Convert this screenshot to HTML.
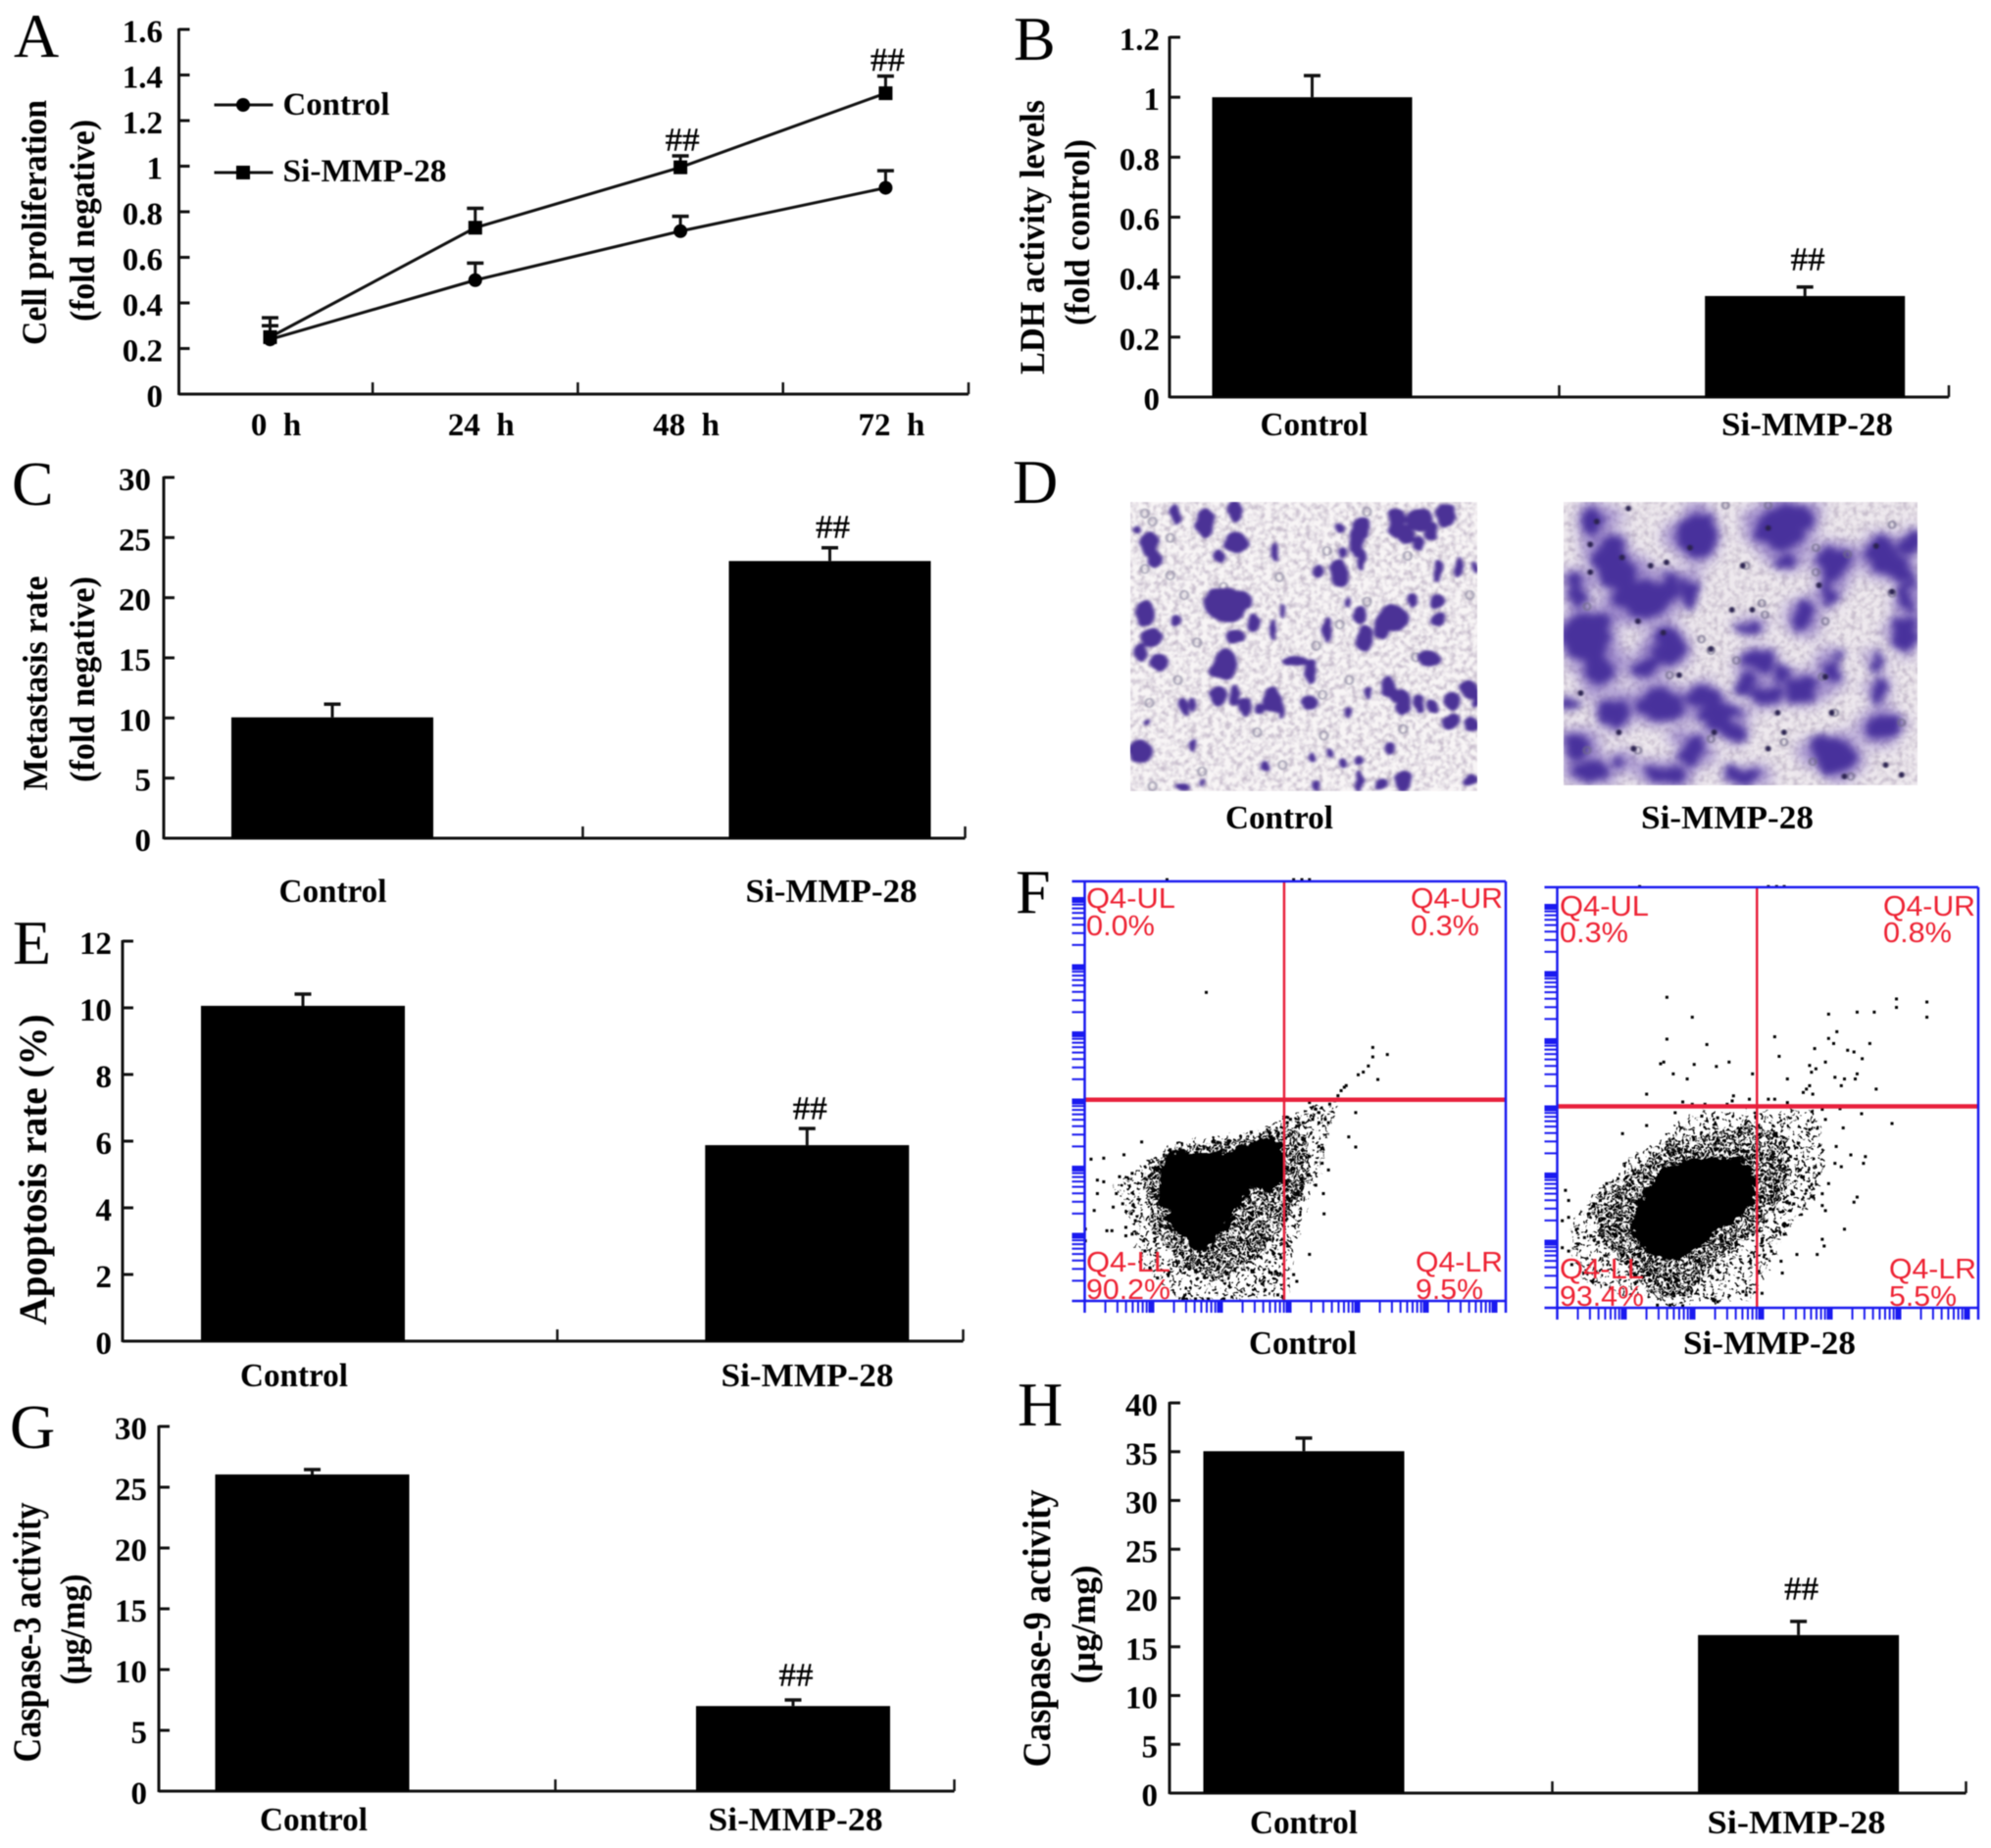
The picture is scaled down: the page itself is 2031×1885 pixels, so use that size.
<!DOCTYPE html>
<html lang="en">
<head>
<meta charset="utf-8">
<title>Si-MMP-28 multi-panel figure</title>
<style>
html,body{margin:0;padding:0;background:#fff;}
#figure{display:block;filter:blur(0.65px);font-family:"Liberation Serif",serif;}
text{font-family:"Liberation Serif",serif;fill:#000;}
</style>
</head>
<body>
<svg id="figure" width="2031" height="1885" viewBox="0 0 2031 1885">
  <rect width="2031" height="1885" fill="#fff"/>
  <defs id="defs">
    <filter id="blurControl" x="-10%" y="-10%" width="120%" height="120%" color-interpolation-filters="sRGB">
      <feTurbulence type="fractalNoise" baseFrequency="0.035 0.02" numOctaves="2" seed="7" result="n"/>
      <feDisplacementMap in="SourceGraphic" in2="n" scale="16" xChannelSelector="R" yChannelSelector="G" result="d"/>
      <feGaussianBlur in="d" stdDeviation="3 4.2"/>
    </filter>
    <filter id="blurSi" x="-10%" y="-10%" width="120%" height="120%" color-interpolation-filters="sRGB">
      <feTurbulence type="fractalNoise" baseFrequency="0.03 0.016" numOctaves="2" seed="11" result="n"/>
      <feDisplacementMap in="SourceGraphic" in2="n" scale="45" xChannelSelector="R" yChannelSelector="G" result="d"/>
      <feGaussianBlur in="d" stdDeviation="6 11"/>
    </filter>
    <filter id="blurHaze" x="-10%" y="-10%" width="120%" height="120%" color-interpolation-filters="sRGB">
      <feTurbulence type="fractalNoise" baseFrequency="0.025 0.014" numOctaves="2" seed="3" result="n"/>
      <feDisplacementMap in="SourceGraphic" in2="n" scale="60" xChannelSelector="R" yChannelSelector="G" result="d"/>
      <feGaussianBlur in="d" stdDeviation="11 20"/>
    </filter>
    <filter id="blurSoft" x="-10%" y="-10%" width="120%" height="120%"><feGaussianBlur stdDeviation="1.5 2.2"/></filter>
    <filter id="mottle" x="0" y="0" width="100%" height="100%" color-interpolation-filters="sRGB">
      <feTurbulence type="fractalNoise" baseFrequency="0.11 0.06" numOctaves="2" seed="4"/>
      <feColorMatrix type="matrix" values="0 0 0 0 0.78  0 0 0 0 0.74  0 0 0 0 0.80  2.6 0 0 0 -1.05"/>
      <feGaussianBlur stdDeviation="1 1.6"/>
    </filter>
    <filter id="roughDots" x="-10%" y="-10%" width="120%" height="120%" color-interpolation-filters="sRGB">
      <feTurbulence type="fractalNoise" baseFrequency="0.17" numOctaves="2" seed="9" result="n"/>
      <feDisplacementMap in="SourceGraphic" in2="n" scale="13" xChannelSelector="R" yChannelSelector="G"/>
    </filter>
    <filter id="roughCore" x="-15%" y="-15%" width="130%" height="130%" color-interpolation-filters="sRGB">
      <feTurbulence type="fractalNoise" baseFrequency="0.1" numOctaves="2" seed="5" result="n"/>
      <feDisplacementMap in="SourceGraphic" in2="n" scale="15" xChannelSelector="R" yChannelSelector="G"/>
    </filter>
  </defs>
  <g id="panel-a"></g>
  <g id="panel-b"></g>
  <g id="panel-c"></g>
  <g id="panel-d"></g>
  <g id="panel-e"></g>
  <g id="panel-f"></g>
  <g id="panel-g"></g>
  <g id="panel-h"></g>
  <g id="letters"></g>
</svg>
<script>
/* ---------- Panel A data ---------- */
const aTimes = ['0  h','24  h','48  h','72  h'];
const aTicks = ['0','0.2','0.4','0.6','0.8','1','1.2','1.4','1.6'];
const aControl = [0.24,0.50,0.715,0.905];
const aControlErr = [0.095,0.075,0.065,0.075];
const aSi = [0.25,0.73,0.995,1.32];
const aSiErr = [0.05,0.085,0.05,0.075];
const aMarks = ['','','##','##'];

/* ---------- Bar panel data ---------- */
const bCategories = ['Control','Si-MMP-28'];
const bValues = [1.0,0.337];
const bErrors = [0.072,0.03];
const bMarks = ['','##'];
const bTicks = ['0','0.2','0.4','0.6','0.8','1','1.2'];

const cCategories = ['Control','Si-MMP-28'];
const cValues = [10.05,23.05];
const cErrors = [1.1,1.1];
const cMarks = ['','##'];
const cTicks = ['0','5','10','15','20','25','30'];

const eCategories = ['Control','Si-MMP-28'];
const eValues = [10.06,5.88];
const eErrors = [0.35,0.5];
const eMarks = ['','##'];
const eTicks = ['0','2','4','6','8','10','12'];

const gCategories = ['Control','Si-MMP-28'];
const gValues = [26.05,7.0];
const gErrors = [0.4,0.5];
const gMarks = ['','##'];
const gTicks = ['0','5','10','15','20','25','30'];

const hCategories = ['Control','Si-MMP-28'];
const hValues = [35.05,16.2];
const hErrors = [1.35,1.4];
const hMarks = ['','##'];
const hTicks = ['0','5','10','15','20','25','30','35','40'];

/* ---------- Flow cytometry data (channel units) ---------- */
const flowControlPoints = [[327,414],[590,577],[613,598],[590,605],[583,632],[575,650],[567,658],[598,672],[545,695],[540,705],[535,720],[530,735],[522,745],[548,690],[563,770],[552,842],[563,872],[510,920],[520,940],[512,1010],[513,1070],[490,1190],[470,1270],[225,857],[197,895],[165,905],[145,908],[155,970],[165,975],[155,1010],[185,1010],[150,1060],[180,1050],[170,1120],[178,1120],[200,1110],[200,1135],[136,1115],[136,1150],[228,1150],[230,1180],[398,828],[345,858],[270,880],[490,740],[500,760],[505,770],[515,790],[520,800],[495,790],[505,800],[480,800],[470,810],[460,790],[455,800],[265,80],[465,80],[478,80],[490,80],[190,960],[210,950],[195,1040],[215,1090],[210,1130],[238,1230],[250,1260],[445,1200],[490,900],[500,985],[505,870],[440,1310],[465,1250],[355,1322],[330,1322],[310,1322],[290,1322]];
const flowControlCore = [[262,905],[300,880],[350,890],[400,858],[447,848],[450,965],[430,1005],[395,990],[375,1060],[352,1125],[322,1180],[296,1155],[272,1095],[254,1040],[256,960]];
const flowControlMid = [[228,960],[278,875],[400,842],[447,812],[480,830],[492,920],[482,1015],[448,1105],[410,1200],[350,1270],[295,1230],[240,1110]];
const flowControlLight = [[180,990],[270,865],[400,825],[445,790],[500,745],[535,745],[522,830],[505,950],[475,1100],[455,1322],[280,1325],[222,1210],[200,1060]];
const flowSiPoints = [[1055,428],[1095,487],[1055,552],[1118,568],[1045,625],[1050,620],[1098,627],[1133,633],[1153,620],[1065,655],[1087,670],[1023,715],[1190,655],[1225,545],[1232,603],[1245,670],[1310,478],[1355,472],[1382,472],[1417,433],[1417,458],[1465,442],[1465,487],[1323,530],[1310,550],[1318,565],[1340,585],[1350,590],[1375,565],[1363,610],[1288,580],[1280,630],[1305,620],[1290,640],[1283,650],[1320,665],[1335,670],[1355,655],[1352,670],[1330,690],[1385,700],[1280,690],[1275,700],[1270,710],[1285,715],[1160,720],[1158,735],[1185,730],[1215,730],[1225,730],[1245,740],[1095,745],[1080,738],[1115,745],[1150,745],[1410,802],[1362,773],[1328,758],[1333,815],[1300,760],[1305,790],[985,832],[1023,808],[1068,770],[1110,780],[1135,785],[1322,870],[1345,895],[1368,900],[1365,920],[1320,920],[1330,930],[1295,950],[1310,980],[1300,1010],[1355,1020],[1350,1035],[1300,1045],[1305,1060],[1335,1115],[1300,1145],[1303,1165],[1292,1190],[1260,1190],[1235,1210],[1237,1245],[1205,1305],[1180,1310],[895,1000],[900,1030],[890,1090],[900,1080],[950,1030],[960,980],[940,1040],[925,1140],[935,1135],[890,1170],[900,1180],[915,1160],[905,1220],[1012,100],[1215,100],[1228,100],[1240,100],[1040,1340],[1060,1340],[1080,1342],[1135,1330],[1175,1300],[1250,900],[1262,860],[1280,820],[1270,960],[1255,1040],[1275,1000],[1240,1130],[1220,1180],[1200,1240]];
const flowSiCore = [[1048,935],[1110,905],[1170,900],[1192,955],[1192,1040],[1145,1105],[1110,1160],[1072,1205],[1030,1200],[1003,1135],[1003,1060],[1028,985]];
const flowSiMid = [[960,1000],[1060,855],[1195,805],[1245,850],[1245,1000],[1205,1105],[1135,1205],[1090,1310],[1040,1320],[995,1235],[950,1135],[930,1050]];
const flowSiLight = [[900,1100],[1000,895],[1100,770],[1210,762],[1290,762],[1305,900],[1295,1000],[1235,1150],[1195,1320],[1050,1345],[915,1260]];
const flowControlLabels = ['Q4-UL','0.0%','Q4-UR','0.3%','Q4-LL','90.2%','Q4-LR','9.5%'];
const flowSiLabels = ['Q4-UL','0.3%','Q4-UR','0.8%','Q4-LL','93.4%','Q4-LR','5.5%'];

/* ---------- Micrograph image content (not chart data) ---------- */
const controlCells = [[275,165,7,28],[322,190,12,40],[370,155,10,30],[235,255,14,35],[245,300,10,25],[373,248,18,30],[347,292,8,18],[435,280,6,28],[215,210,5,10],[568,205,12,30],[535,208,8,12],[560,250,12,40],[570,300,7,30],[538,280,6,15],[625,190,14,40],[660,180,18,30],[702,165,15,32],[680,215,10,25],[660,250,10,20],[640,225,12,25],[500,335,10,20],[535,345,14,40],[690,335,8,30],[720,325,5,28],[748,325,5,15],[355,440,28,50],[378,425,18,25],[400,495,7,25],[372,535,14,18],[228,465,13,35],[238,540,15,25],[222,585,10,25],[250,615,12,25],[275,490,7,15],[430,515,6,30],[445,455,4,20],[515,515,6,35],[568,470,10,25],[575,540,12,35],[620,480,22,35],[600,510,10,30],[690,485,9,18],[650,425,6,20],[687,430,10,20],[548,430,4,15],[675,605,16,22],[355,620,16,45],[345,640,12,20],[465,610,20,12],[490,645,10,35],[343,720,13,28],[370,715,8,30],[385,755,10,25],[430,730,14,35],[440,760,6,25],[487,740,10,20],[290,750,8,25],[305,745,5,20],[410,755,8,15],[612,690,10,30],[635,735,12,35],[622,720,10,20],[660,745,7,25],[680,750,8,18],[713,735,12,25],[740,700,11,25],[748,735,5,20],[578,710,5,15],[710,795,13,22],[742,805,12,22],[222,890,17,32],[232,800,6,10],[305,870,5,18],[417,935,8,15],[492,905,5,12],[520,895,5,12],[540,925,5,12],[565,915,6,14],[612,880,7,15],[565,980,5,28],[600,988,8,14],[635,980,12,28],[738,975,10,15],[288,997,10,12],[500,995,6,15],[320,985,4,10],[550,770,6,15]];
const siCells = [[940,180,22,40],[1105,225,32,70],[1235,205,40,70],[1270,175,25,40],[965,290,30,60],[980,345,30,50],[1015,420,45,60],[1055,385,20,50],[1090,400,15,50],[915,400,15,50],[1245,310,20,25],[1320,315,25,60],[1395,285,30,50],[1420,330,20,45],[1437,245,14,40],[1435,415,15,50],[930,520,38,60],[915,560,25,40],[945,620,25,70],[1025,625,25,35],[1060,570,28,55],[1430,530,20,60],[1270,465,15,50],[1310,400,12,50],[1185,505,25,12],[1200,610,25,30],[1180,680,20,35],[1215,720,25,35],[1270,700,30,40],[1235,650,15,30],[1315,640,15,35],[1390,700,15,40],[1045,745,40,50],[1110,720,30,35],[975,770,20,50],[1140,780,30,50],[1160,830,20,30],[1097,885,22,50],[1320,905,35,55],[1300,870,15,30],[1395,815,25,45],[915,870,20,40],[935,950,30,35],[985,915,15,25],[1050,960,35,30],[1180,960,30,25],[1320,590,8,15],[1385,610,10,30],[900,740,10,20]];
const controlRings = [[228,160],[240,185],[268,235],[228,330],[268,350],[352,385],[290,410],[440,355],[515,275],[578,155],[642,290],[578,430],[740,410],[535,500],[498,565],[310,555],[280,670],[655,600],[508,715],[235,740],[405,830],[510,840],[318,950],[445,930],[240,995],[635,820],[550,670]];
const siDarkDots = [[995,145],[945,185],[1215,205],[1092,265],[935,255],[985,295],[935,340],[1055,310],[1030,320],[1295,380],[1385,260],[1410,400],[1175,320],[1158,455],[1190,455],[1010,490],[1050,525],[1125,575],[1305,660],[1230,770],[1315,770],[1400,930],[1003,880],[980,830],[1130,830],[1240,830],[1215,880],[1335,965],[1425,960],[920,710],[1075,655]];
const siRings = [[1148,135],[1215,135],[1410,195],[1290,265],[1290,340],[1340,285],[1180,320],[1205,435],[1410,405],[1210,470],[1305,490],[1125,580],[1165,610],[1300,660],[1320,770],[1425,800],[1240,860],[1125,850],[930,445],[930,885],[1010,885],[1060,655],[1110,545],[1285,920],[1345,965]];

/* ---------- Layout (geometry only) ---------- */
const layoutA = {left:182.5,right:988,base:402,top:30,max:1.6,firstX:275.5,stepX:209.3,labelRight:166};
const layoutB = {left:1193,right:1988,base:405,top:38,max:1.2,firstBar:1338.5,barStep:502.7,barWidth:204,midTick:1590.5,labelFirst:1340.5,labelStep:503,labelCy:432,tickRight:1183,hashGap:26,siLen:175};
const layoutC = {left:167,right:984.5,base:855,top:487,max:30,firstBar:339,barStep:507.5,barWidth:206,midTick:594.5,labelFirst:339.5,labelStep:508.5,labelCy:908,tickRight:154,hashGap:19,siLen:175};
const layoutE = {left:125,right:982.5,base:1368,top:960,max:12,firstBar:309,barStep:514.3,barWidth:208,midTick:568.5,labelFirst:300,labelStep:523.5,labelCy:1402,tickRight:114,hashGap:18,siLen:176};
const layoutG = {left:162,right:973.5,base:1827,top:1455,max:30,firstBar:318.5,barStep:490.5,barWidth:198,midTick:566.5,labelFirst:320,labelStep:491.5,labelCy:1855,tickRight:150,hashGap:23,siLen:178};
const layoutH = {left:1193,right:2005.5,base:1829,top:1431,max:40,firstBar:1330,barStep:504.6,barWidth:205,midTick:1583.5,labelFirst:1330,labelStep:502.5,labelCy:1858,tickRight:1181,hashGap:31,siLen:182};

const NS = document.querySelector('#figure').namespaceURI;
function mk(tag, parent, attrs) {
  const node = document.createElementNS(NS, tag);
  for (const k in attrs) node.setAttribute(k, attrs[k]);
  parent.appendChild(node);
  return node;
}
function fitText(parent, str, attrs) {
  const node = mk('text', parent, attrs);
  node.textContent = str;
  node.setAttribute('xml:space', 'preserve');
  node.style.whiteSpace = 'pre';
  return node;
}
function yTitle(parent, str, x, cy, len, size) {
  const t = fitText(parent, str, {transform:'translate(' + x + ',' + cy + ') rotate(-90)', x:0, y:size * 0.305, 'text-anchor':'middle', 'font-size':size, 'font-weight':'bold', textLength:len, lengthAdjust:'spacingAndGlyphs'});
  
  
}
function yAxis(parent, L, ticks, labelRight) {
  const scale = v => L.base - v / L.max * (L.base - L.top);
  const axis = mk('line', parent, {x1:L.left, x2:L.left, y1:L.top - 1, y2:L.base + 1, stroke:'#111', 'stroke-width':3});
  
  
  ticks.forEach(label => {
    const y = scale(Number(label));
    if (Number(label) !== 0) {
      const tick = mk('line', parent, {x1:L.left, x2:L.left + 11, y1:y, y2:y, stroke:'#111', 'stroke-width':3});
      
      
    }
    const text = fitText(parent, label, {x:labelRight, y:y + 13, 'text-anchor':'end', 'font-size':33, 'font-weight':'bold'});
    
    
  });
  return scale;
}
function hashMark(parent, str, x, cy) {
  const mark = fitText(parent, str, {x:x, y:cy + 8.5, 'text-anchor':'middle', 'font-size':34, textLength:35, lengthAdjust:'spacingAndGlyphs', stroke:'#000', 'stroke-width':0.4});
  
  
}
function errorBar(parent, x, yFrom, yTo, cap) {
  const stem = mk('line', parent, {x1:x, x2:x, y1:yFrom, y2:yTo, stroke:'#111', 'stroke-width':3});
  
  
  const hat = mk('line', parent, {x1:x - cap / 2, x2:x + cap / 2, y1:yTo, y2:yTo, stroke:'#111', 'stroke-width':3.5});
  
  
}
function drawBars(parent, L, categories, values, errors, marks, ticks) {
  const yScale = yAxis(parent, L, ticks, L.tickRight);
  const xScale = i => L.firstBar + i * L.barStep;
  const xAxisLine = mk('line', parent, {x1:L.left, x2:L.right, y1:L.base, y2:L.base, stroke:'#111', 'stroke-width':3});
  
  
  [L.midTick, L.right].forEach(x => {
    const tick = mk('line', parent, {x1:x, x2:x, y1:L.base, y2:L.base - 12, stroke:'#111', 'stroke-width':2.5});
    
    
  });
  categories.forEach((cat, i) => {
    const cx = xScale(i);
    const yv = yScale(values[i]);
    const yTop = yScale(values[i] + errors[i]);
    errorBar(parent, cx, yv, yTop, 17);
    const bar = mk('rect', parent, {x:cx - L.barWidth / 2, y:yv, width:L.barWidth, height:L.base - yv, fill:'#000'});
    
    
    if (marks[i]) hashMark(parent, marks[i], cx + 3, yTop - L.hashGap);
    const label = fitText(parent, cat, {x:L.labelFirst + i * L.labelStep, y:L.labelCy + 12, 'text-anchor':'middle', 'font-size':34, 'font-weight':'bold', textLength:(cat.length > 7 ? L.siLen : 110), lengthAdjust:'spacingAndGlyphs'});
    
    
  });
}

/* ---------- Panel A ---------- */
(function () {
  const g = document.getElementById('panel-a');
  const L = layoutA;
  const yScale = yAxis(g, L, aTicks, L.labelRight);
  const xScale = i => L.firstX + i * L.stepX;
  const xLine = mk('line', g, {x1:L.left, x2:L.right, y1:L.base, y2:L.base, stroke:'#111', 'stroke-width':3});
  
  
  aTimes.forEach((t, i) => {
    const tx = i === aTimes.length - 1 ? L.right : xScale(i + 0.5);
    const tick = mk('line', g, {x1:tx, x2:tx, y1:L.base, y2:L.base - 12, stroke:'#111', 'stroke-width':2.5});
    
    
    const label = fitText(g, t, {x:xScale(i) + 6, y:444, 'text-anchor':'middle', 'font-size':33, 'font-weight':'bold'});
    
    
  });
  const linePoints = arr => arr.map((v, i) => xScale(i) + ',' + yScale(v)).join(' ');
  const lineC = mk('polyline', g, {points:linePoints(aControl), fill:'none', stroke:'#111', 'stroke-width':3});
  
  
  const lineS = mk('polyline', g, {points:linePoints(aSi), fill:'none', stroke:'#111', 'stroke-width':3});
  
  
  aControl.forEach((v, i) => {
    errorBar(g, xScale(i), yScale(v), yScale(v + aControlErr[i]), 17);
    const dot = mk('circle', g, {cx:xScale(i), cy:yScale(v), r:7, fill:'#000'});
    
    
  });
  aSi.forEach((v, i) => {
    errorBar(g, xScale(i), yScale(v), yScale(v + aSiErr[i]), 17);
    const sq = mk('rect', g, {x:xScale(i) - 7, y:yScale(v) - 7, width:14, height:14, fill:'#000'});
    
    
    if (aMarks[i]) hashMark(g, aMarks[i], xScale(i) + 2, yScale(v + aSiErr[i]) - 14);
  });
  yTitle(g, 'Cell proliferation', 36, 227, 250, 36);
  yTitle(g, '(fold negative)', 85, 225, 206, 36);

  const legendLineC = mk('line', g, {x1:218.5, x2:278.5, y1:107, y2:107, stroke:'#111', 'stroke-width':3});
  
  
  const legendDot = mk('circle', g, {cx:248, cy:107, r:7, fill:'#000'});
  
  
  const legendC = fitText(g, 'Control', {x:288.5, y:117, 'font-size':33, 'font-weight':'bold', textLength:109, lengthAdjust:'spacingAndGlyphs'});
  
  
  const legendLineS = mk('line', g, {x1:218.5, x2:278.5, y1:176, y2:176, stroke:'#111', 'stroke-width':3});
  
  
  const legendSq = mk('rect', g, {x:241, y:169, width:14, height:14, fill:'#000'});
  
  
  const legendS = fitText(g, 'Si-MMP-28', {x:288.5, y:185, 'font-size':33, 'font-weight':'bold', textLength:167, lengthAdjust:'spacingAndGlyphs'});
  
  
})();

/* ---------- Bar panels ---------- */
(function () {
  const b = document.getElementById('panel-b');
  drawBars(b, layoutB, bCategories, bValues, bErrors, bMarks, bTicks);
  yTitle(b, 'LDH activity levels', 1054, 242, 280, 36);
  yTitle(b, '(fold control)', 1100, 237, 190, 36);
  const c = document.getElementById('panel-c');
  drawBars(c, layoutC, cCategories, cValues, cErrors, cMarks, cTicks);
  yTitle(c, 'Metastasis rate', 37, 697, 219, 36);
  yTitle(c, '(fold negative)', 85, 693, 210, 36);
  const e = document.getElementById('panel-e');
  drawBars(e, layoutE, eCategories, eValues, eErrors, eMarks, eTicks);
  yTitle(e, 'Apoptosis rate (%)', 35, 1193, 317, 40);
  const g = document.getElementById('panel-g');
  drawBars(g, layoutG, gCategories, gValues, gErrors, gMarks, gTicks);
  yTitle(g, 'Caspase-3 activity', 29, 1665, 265, 40);
  yTitle(g, '(μg/mg)', 75, 1662, 113, 36);
  const h = document.getElementById('panel-h');
  drawBars(h, layoutH, hCategories, hValues, hErrors, hMarks, hTicks);
  yTitle(h, 'Caspase-9 activity', 1059, 1661, 283, 40);
  yTitle(h, '(μg/mg)', 1106, 1657, 121, 36);
})();

/* ---------- Panel D micrographs ---------- */
(function () {
  const d = document.getElementById('panel-d');
  const imgC = mk('svg', d, {x:1153, y:512, width:354, height:295, viewBox:'205 125 547 885', preserveAspectRatio:'none'});
  
  
  const bgC = mk('rect', imgC, {x:205, y:125, width:547, height:885, fill:'#f8f5f6'});
  
  
  const speckC = mk('rect', imgC, {x:205, y:125, width:547, height:885, filter:'url(#mottle)'});
  
  
  const ringsC = mk('g', imgC, {fill:'none', stroke:'#8f8ba3', 'stroke-width':3, filter:'url(#blurSoft)'});
  
  
  controlRings.forEach(r => {
    const ring = mk('ellipse', ringsC, {cx:r[0], cy:r[1], rx:6, ry:13});
    
    
  });
  const cellsC = mk('g', imgC, {fill:'#4b3296', filter:'url(#blurControl)'});
  
  
  controlCells.forEach(c => {
    const cell = mk('ellipse', cellsC, {cx:c[0], cy:c[1], rx:c[2] * 1.12, ry:c[3] * 1.12});
    
    
  });

  const imgS = mk('svg', d, {x:1595, y:512, width:361, height:289, viewBox:'893 125 557 867', preserveAspectRatio:'none'});
  
  
  const bgS = mk('rect', imgS, {x:893, y:125, width:557, height:867, fill:'#eee9ee'});
  
  
  const speckS = mk('rect', imgS, {x:893, y:125, width:557, height:867, filter:'url(#mottle)'});
  
  
  const hazeS = mk('g', imgS, {fill:'#7c62bd', opacity:0.72, filter:'url(#blurHaze)'});
  
  
  siCells.forEach(c => {
    const haze = mk('ellipse', hazeS, {cx:c[0], cy:c[1], rx:c[2] * 1.35, ry:c[3] * 1.35});
    
    
  });
  const cellsS = mk('g', imgS, {fill:'#48319c', filter:'url(#blurSi)'});
  
  
  siCells.forEach(c => {
    const cell = mk('ellipse', cellsS, {cx:c[0], cy:c[1], rx:c[2] * 0.95, ry:c[3] * 0.95});
    
    
  });
  const ringsS = mk('g', imgS, {fill:'none', stroke:'#6f6a88', 'stroke-width':3, filter:'url(#blurSoft)'});
  
  
  siRings.forEach(r => {
    const ring = mk('ellipse', ringsS, {cx:r[0], cy:r[1], rx:5, ry:11});
    
    
  });
  const dotsS = mk('g', imgS, {fill:'#2a2450', filter:'url(#blurSoft)'});
  
  
  siDarkDots.forEach(p => {
    const dot = mk('ellipse', dotsS, {cx:p[0], cy:p[1], rx:4.5, ry:9});
    
    
  });

  const labC = fitText(d, 'Control', {x:1305, y:845, 'text-anchor':'middle', 'font-size':34, 'font-weight':'bold', textLength:110, lengthAdjust:'spacingAndGlyphs'});
  
  
  const labS = fitText(d, 'Si-MMP-28', {x:1762, y:845, 'text-anchor':'middle', 'font-size':34, 'font-weight':'bold', textLength:176, lengthAdjust:'spacingAndGlyphs'});
  
  
})();

/* ---------- Panel F flow cytometry ---------- */
(function () {
  const defs = document.getElementById('defs');
  const midTile = [[1,1],[6,0],[11,2],[16,1],[3,5],[9,6],[14,5],[18,7],[0,9],[6,10],[12,11],[17,12],[3,14],[9,15],[14,16],[1,18],[7,19],[12,19],[18,17]];
  const lightTile = [[2,3],[12,1],[22,5],[7,9],[17,11],[27,13],[3,17],[13,20],[23,19],[8,25],[18,27],[27,25],[1,26],[20,15],[14,7],[26,2],[9,16],[29,8],[15,25],[24,26]];
  const midPat = mk('pattern', defs, {id:'densityMid', width:20, height:20, patternUnits:'userSpaceOnUse', patternTransform:'rotate(17)'});
  midTile.forEach(p => mk('rect', midPat, {x:p[0], y:p[1], width:3.3, height:3.1, fill:'#000'}));
  const lightPat = mk('pattern', defs, {id:'densityLight', width:30, height:30, patternUnits:'userSpaceOnUse', patternTransform:'rotate(23)'});
  lightTile.forEach(p => mk('rect', lightPat, {x:p[0], y:p[1], width:3, height:3, fill:'#000'}));

  function flowPlot(F) {
    const parent = document.getElementById('panel-f');
    const g = mk('g', parent, {});
    
    
    const xScale = v => F.left + (v - F.xDomain[0]) / (F.xDomain[1] - F.xDomain[0]) * (F.right - F.left);
    const yScale = v => F.bottom - (v - F.yDomain[0]) / (F.yDomain[1] - F.yDomain[0]) * (F.bottom - F.top);
    const polyPts = arr => arr.map(p => xScale(p[0]) + ',' + yScale(p[1])).join(' ');
    const light = mk('polygon', g, {points:polyPts(F.light), fill:'url(#densityLight)', filter:'url(#roughDots)'});
    
    
    const mid = mk('polygon', g, {points:polyPts(F.mid), fill:'url(#densityMid)', filter:'url(#roughDots)'});
    
    
    const core = mk('polygon', g, {points:polyPts(F.core), fill:'#000', filter:'url(#roughCore)'});
    
    
    F.points.forEach(p => {
      const pt = mk('rect', g, {x:xScale(p[0]) - 1.5, y:yScale(p[1]) - 1.5, width:3, height:3, fill:'#000'});
      
      
    });
    const hLine = mk('line', g, {x1:F.left, x2:F.right, y1:yScale(F.gateY), y2:yScale(F.gateY), stroke:'#e8203c', 'stroke-width':4.5});
    
    
    const vLine = mk('line', g, {x1:xScale(F.gateX), x2:xScale(F.gateX), y1:F.top, y2:F.bottom, stroke:'#e8203c', 'stroke-width':2.5});
    
    

    const blue = '#1a1af0';
    const frameTop = mk('line', g, {x1:F.left - 13, x2:F.right, y1:F.top, y2:F.top, stroke:blue, 'stroke-width':2.5});
    
    
    const frameBottom = mk('line', g, {x1:F.left - 13, x2:F.right, y1:F.bottom, y2:F.bottom, stroke:blue, 'stroke-width':2.5});
    
    
    const frameLeft = mk('line', g, {x1:F.left, x2:F.left, y1:F.top, y2:F.bottom + 12, stroke:blue, 'stroke-width':2.5});
    
    
    const frameRight = mk('line', g, {x1:F.right, x2:F.right, y1:F.top, y2:F.bottom + 12, stroke:blue, 'stroke-width':2.5});
    
    

    const logK = [1,2,3,4,5,6,7,8,9,9.5];
    for (let d = 0; d < 6; d++) {
      logK.forEach(k => {
        const x = F.left + (d + Math.log10(k)) * 70;
        const t = mk('line', g, {x1:x, x2:x, y1:F.bottom, y2:F.bottom + 12, stroke:blue, 'stroke-width':2});
        
        
        const y = F.bottom - (d + Math.log10(k)) * 68.5;
        if (k > 1 || d > 0) {
          const ty = mk('line', g, {x1:F.left - 13, x2:F.left, y1:y, y2:y, stroke:blue, 'stroke-width':2});
          
          
        }
      });
      const thick = mk('rect', g, {x:F.left - 13, y:F.bottom - (d + 1) * 68.5 - 1, width:13, height:6, fill:blue});
      
      
      const thickX = mk('rect', g, {x:F.left + (d + 1) * 70 - 5, y:F.bottom, width:6, height:12, fill:blue});
      
      
    }
    F.labels.forEach((str, i) => {
      const t = fitText(g, str, {x:F.labelX[i], y:F.labelY[i], 'font-size':29, textLength:F.labelLen[i], lengthAdjust:'spacingAndGlyphs', style:'font-family:"Liberation Sans",sans-serif;fill:#ee2233'});
      
      
    });
    const caption = fitText(g, F.caption, {x:F.captionX, y:1381, 'text-anchor':'middle', 'font-size':34, 'font-weight':'bold', textLength:F.captionLen, lengthAdjust:'spacingAndGlyphs'});
    
    
  }
  flowPlot({left:1106.5,right:1536,top:899,bottom:1327,xDomain:[135,800],yDomain:[1328,85],gateX:450,gateY:732,
    points:flowControlPoints,core:flowControlCore,mid:flowControlMid,light:flowControlLight,labels:flowControlLabels,
    labelX:[1108,1108,1439,1439,1108,1108,1444,1444],labelY:[926,954,926,954,1297,1325,1297,1325],labelLen:[91,70,94,70,86,86,89,69],
    caption:'Control',captionX:1329,captionLen:110});
  flowPlot({left:1588.5,right:2018,top:905,bottom:1334,xDomain:[882,1546],yDomain:[1348,102],gateX:1197,gateY:751,
    points:flowSiPoints,core:flowSiCore,mid:flowSiMid,light:flowSiLight,labels:flowSiLabels,
    labelX:[1591,1591,1921,1921,1591,1591,1927,1927],labelY:[934,961,934,961,1304,1332,1304,1332],labelLen:[91,70,94,70,86,86,89,69],
    caption:'Si-MMP-28',captionX:1805,captionLen:176});
})();

/* ---------- Panel letters ---------- */
(function () {
  const letters = document.getElementById('letters');
  const placed = [['A',14,58],['B',1034,61],['C',12,515],['D',1033,513],['E',13,983],['F',1036,931],['G',10,1477],['H',1038,1454]];
  placed.forEach(p => {
    const t = fitText(letters, p[0], {x:p[1], y:p[2], 'font-size':64});
    
    
  });
})();
</script>
</body>
</html>
